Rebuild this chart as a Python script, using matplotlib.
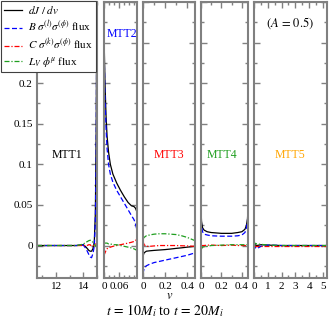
import matplotlib
matplotlib.use("Agg")
import matplotlib.pyplot as plt
from matplotlib.ticker import MultipleLocator, FixedLocator, FuncFormatter
from matplotlib.lines import Line2D

plt.rcParams['font.family'] = ['Liberation Serif', 'DejaVu Serif']
plt.rcParams['mathtext.fontset'] = 'stix'

# --- DATA ---
# MTT1
v1 = [10.6, 11.0, 12.0, 13.0, 13.5, 13.8, 14.0, 14.2, 14.4, 14.5, 14.6, 14.7, 14.8, 14.88, 14.94, 15.0]
dj1 = [0, 0, 0, 0, 0, 0.0005, 0.001, -0.002, -0.006, -0.007, -0.007, -0.004, 0.004, 0.04, 0.14, 0.35]
b1 = [0, 0, 0, 0, 0, 0.0005, 0.0005, -0.004, -0.011, -0.014, -0.015, -0.01, -0.001, 0.03, 0.11, 0.33]
c1 = [0, 0, 0, 0, 0, 0, 0, -0.0005, 0.001, 0.001, -0.001, -0.0005, 0.001, 0.002, 0.001, 0.0]
l1 = [0, 0, 0, 0, 0, 0.001, 0.002, 0.004, 0.006, 0.0065, 0.006, 0.004, 0.001, 0.0, -0.001, -0.001]

# MTT2
v2 = [0, 0.004, 0.008, 0.012, 0.018, 0.025, 0.035, 0.05, 0.065, 0.08, 0.095, 0.108, 0.118, 0.124, 0.129]
dj2 = [0.26, 0.2, 0.16, 0.135, 0.115, 0.1, 0.088, 0.077, 0.068, 0.06, 0.053, 0.049, 0.048, 0.046, 0.042]
b2 = [0.25, 0.18, 0.145, 0.12, 0.1, 0.088, 0.078, 0.068, 0.06, 0.052, 0.044, 0.037, 0.032, 0.027, 0.02]
c2 = [-0.012, -0.009, -0.006, -0.004, -0.003, -0.002, -0.001, 0.0, 0.001, 0.002, 0.003, 0.004, 0.005, 0.006, 0.008]
l2 = [0.003, 0.003, 0.003, 0.003, 0.002, 0.002, 0.001, 0.001, 0.0, -0.001, -0.002, -0.003, -0.004, -0.005, -0.006]

# MTT3
v3 = [0, 0.01, 0.03, 0.06, 0.1, 0.15, 0.2, 0.25, 0.3, 0.35, 0.4, 0.47]
dj3 = [-0.013, -0.009, -0.007, -0.0065, -0.006, -0.0055, -0.005, -0.0043, -0.0035, -0.0028, -0.002, -0.001]
b3 = [-0.035, -0.028, -0.025, -0.023, -0.021, -0.0195, -0.018, -0.0165, -0.015, -0.0135, -0.012, -0.009]
c3 = [0.005, 0.001, -0.001, -0.001, -0.0005, 0.0, 0.0, 0.0, 0.0, -0.0003, -0.0005, -0.001]
l3 = [0.008, 0.010, 0.012, 0.013, 0.014, 0.0145, 0.0145, 0.014, 0.0135, 0.012, 0.010, 0.006]

# MTT4
v4 = [0, 0.005, 0.015, 0.03, 0.06, 0.1, 0.2, 0.3, 0.36, 0.4, 0.43, 0.445, 0.455, 0.46]
dj4 = [0.045, 0.03, 0.022, 0.019, 0.017, 0.016, 0.015, 0.015, 0.016, 0.017, 0.02, 0.025, 0.033, 0.045]
b4 = [0.04, 0.024, 0.017, 0.014, 0.013, 0.012, 0.0115, 0.0115, 0.012, 0.013, 0.016, 0.022, 0.03, 0.042]
c4 = [0.0, 0.0, 0.0, 0.0, 0.0005, 0.0005, 0.0, 0.0005, 0.0, 0.0, 0.0, 0.0, 0.0, 0.0]
l4 = [-0.005, -0.004, -0.002, -0.0015, -0.001, 0.0, 0.0005, 0.001, 0.001, 0.001, 0.001, 0.001, 0.001, 0.001]

# MTT5
v5 = [0, 0.05, 0.2, 0.5, 1.0, 2.0, 3.0, 5.3]
dj5 = [0.005, 0.001, 0.0, 0.001, 0.0005, 0.0, 0.0, 0.0]
b5 = [0.002, -0.002, -0.004, -0.001, 0.0005, 0.0, 0.0, 0.0]
c5 = [0.0, 0.0, 0.0, 0.0, 0.0, 0.0, 0.0, 0.0]
l5 = [0.0, 0.003, 0.002, 0.0015, 0.0005, 0.0, 0.0, 0.0]

panel_names = ['MTT1', 'MTT2', 'MTT3', 'MTT4', 'MTT5']
panel_colors = ['black', '#0000ff', '#ff0000', '#1f9e1f', '#ffa500']
legend_labels = [r'$dJ\ /\ dv$',
                 r'$B\ \sigma^{(l)}\sigma^{(\phi)}$ flux',
                 r'$C\ \sigma^{(k)}\sigma^{(\phi)}$ flux',
                 r'$L_V\ \phi^{\mu}$ flux']
y_ticklabels = [0, 0.05, 0.1, 0.15, 0.2]

# --- STYLE ---
GREY = '#808080'
series_style = [
    dict(color='black', ls='-'),
    dict(color='#0000ff', ls=(0, (4, 2))),
    dict(color='#ff0000', ls=(0, (4, 1.5, 1, 1.5))),
    dict(color='#1f9e1f', ls=(0, (4, 1.5, 1, 1.5))),
]

panels = [
    (v1, [dj1, b1, c1, l1]),
    (v2, [dj2, b2, c2, l2]),
    (v3, [dj3, b3, c3, l3]),
    (v4, [dj4, b4, c4, l4]),
    (v5, [dj5, b5, c5, l5]),
]

W, H = 329, 320
# pixel extents of each panel (left, right)
px = [(37, 97), (104, 137), (143, 195), (201, 248), (254, 327)]
top_px, bot_px = 2, 278
xlims = [(10.6, 15.0), (0, 0.13), (0, 0.47), (0, 0.46), (0, 5.3)]
xmajor = [FixedLocator([12, 14]), FixedLocator([0, 0.06]), MultipleLocator(0.2),
          MultipleLocator(0.2), MultipleLocator(1)]
xminor = [MultipleLocator(1), MultipleLocator(0.02), MultipleLocator(0.1),
          MultipleLocator(0.1), MultipleLocator(0.5)]
label_pos = [(12.8, 0.111), (0.07, 0.26), (0.23, 0.111), (0.2, 0.111), (2.6, 0.111)]

fig = plt.figure(figsize=(W / 100, H / 100), dpi=100)
fmt = FuncFormatter(lambda x, p: '%g' % round(x, 6))
# labels under the legend box are not shown in the reference
yfmt = FuncFormatter(lambda x, p: '%g' % round(x, 6)
                     if round(x, 6) in y_ticklabels else '')

for i, (v, ys) in enumerate(panels):
    l, r = px[i]
    ax = fig.add_axes([l / W, 1 - bot_px / H, (r - l) / W, (bot_px - top_px) / H])
    for y, st in zip(ys, series_style):
        ax.plot(v, y, lw=0.9, **st)
    ax.set_xlim(*xlims[i])
    ax.set_ylim(-0.04, 0.3)
    ax.xaxis.set_major_locator(xmajor[i])
    ax.xaxis.set_minor_locator(xminor[i])
    ax.xaxis.set_major_formatter(fmt)
    ax.yaxis.set_major_locator(MultipleLocator(0.05))
    ax.yaxis.set_minor_locator(MultipleLocator(0.025))
    ax.yaxis.set_major_formatter(yfmt)
    ax.tick_params(which='both', direction='in', top=True, right=True,
                   color=GREY, width=1.0, labelsize=8, pad=3)
    ax.tick_params(which='major', length=4)
    ax.tick_params(which='minor', length=2.5)
    if i > 0:
        ax.tick_params(labelleft=False)
    for s in ax.spines.values():
        s.set_color(GREY)
        s.set_linewidth(1.5)
    ax.text(label_pos[i][0], label_pos[i][1], panel_names[i], color=panel_colors[i],
            ha='center', va='center', fontsize=8.5)
    if i == 4:
        ax.text(2.65, 0.274, r'$(A\,=\,0.5)$', ha='center', va='center', fontsize=9)

handles = [Line2D([], [], lw=0.9, **st) for st in series_style]
leg = fig.legend(handles, legend_labels, loc='upper left', bbox_to_anchor=(0.003, 0.997),
                 bbox_transform=fig.transFigure, borderaxespad=0, fontsize=8,
                 frameon=True, fancybox=False, handlelength=1.6, handletextpad=0.5,
                 labelspacing=0.25, borderpad=0.3)
leg.get_frame().set_edgecolor('#404040')
leg.get_frame().set_linewidth(0.8)
leg.get_frame().set_alpha(1)

fig.text(170 / W, 1 - 296 / H, r'$v$', ha='center', va='center', fontsize=9)
fig.text(165 / W, 1 - 311 / H, r'$t\,=\,10M_i$ to $t\,=\,20M_i$', ha='center',
         va='center', fontsize=10)

fig.savefig('out.png', dpi=100)
